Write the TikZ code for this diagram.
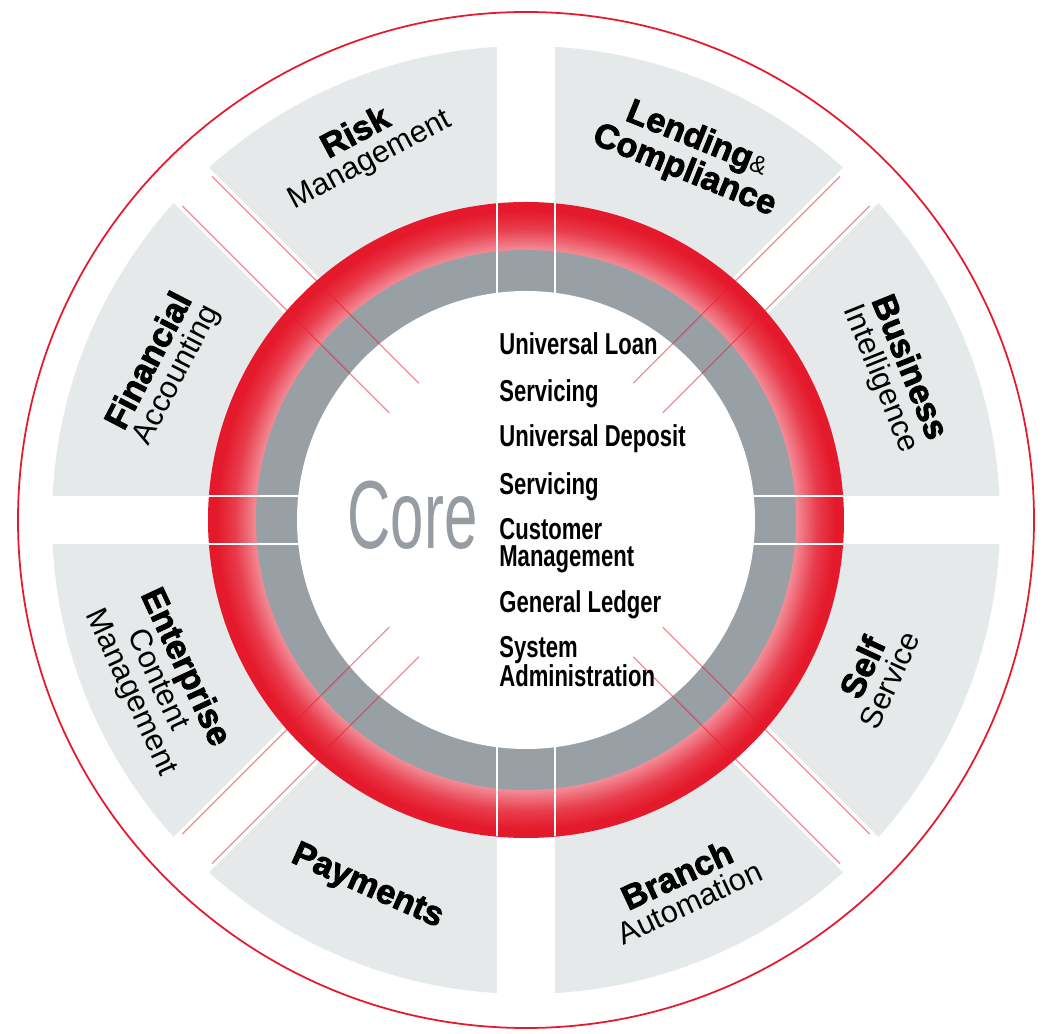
\documentclass[tikz,border=0pt]{standalone}
\usepackage{fontspec}
\setmainfont{Liberation Sans}
\newfontfamily\narrowfont[FakeStretch=0.73]{Liberation Sans}
\newfontfamily\corefont[FakeStretch=0.62]{Liberation Sans}
\newfontfamily\heavyfont[BoldFeatures={FakeBold=2.4}]{Liberation Sans}
\usepackage{xcolor}
\usepackage{tikz}

\definecolor{ringred}{RGB}{228,26,44}
\definecolor{ringpink}{RGB}{243,142,152}
\definecolor{ringgray}{RGB}{152,159,165}
\definecolor{segfill}{RGB}{230,233,234}
\definecolor{coregray}{RGB}{150,156,162}

% red band: pink on the inside, full red on the rim
\pgfdeclareradialshading{redring}{\pgfpoint{0bp}{0bp}}{color(0bp)=(ringpink); color(21.2bp)=(ringpink); color(22.9bp)=(ringred!70!ringpink); color(24.3bp)=(ringred); color(25bp)=(ringred); color(50bp)=(ringred)}

\newcommand{\segtitle}[1]{{\heavyfont\bfseries\fontsize{19.5}{16.5}\selectfont #1}}

\begin{document}
\begin{tikzpicture}[
    gap/.style={fill=white},
    seam/.style={white, line width=1.1pt},
    spoke/.style={ringred, line width=0.6pt, opacity=0.55},
    seglabel/.style={align=center, inner sep=0pt, font=\fontsize{17.5}{16.5}\selectfont},
    module/.style={anchor=base west, align=left, inner sep=0pt, font=\narrowfont\bfseries\fontsize{17.2}{15.4}\selectfont}
]
\useasboundingbox (-10.52,-10.28) rectangle (10.64,10.40);

% outer rim
\draw[ringred, line width=1pt] (0,0) circle (10.16);

% eight segments: one disc cut by four white bands
\fill[segfill] (0,0) circle (9.48);
\fill[gap] (-9.7,-0.48) rectangle (9.7,0.48);
\fill[gap] (-0.58,-9.7) rectangle (0.58,9.7);
\fill[gap, rotate=45] (-9.7,-0.5) rectangle (9.7,0.5);
\fill[gap, rotate=-45] (-9.7,-0.5) rectangle (9.7,0.5);

% core rings
\shade[shading=redring] (0,0) circle (6.36);
\fill[ringgray] (0,0) circle (5.40);
\fill[white] (0,0) circle (4.58);

% seams of the bands through the rings
\draw[seam] (-0.58,4.4) -- (-0.58,6.33) (0.58,4.4) -- (0.58,6.33)
            (-0.58,-4.4) -- (-0.58,-6.33) (0.58,-4.4) -- (0.58,-6.33)
            (4.4,0.48) -- (6.33,0.48) (4.4,-0.48) -- (6.33,-0.48)
            (-4.4,0.48) -- (-6.33,0.48) (-4.4,-0.48) -- (-6.33,-0.48);

% thin red spokes along the diagonal bands
\draw[spoke, rotate=45] (3.45,0.42) -- (9.3,0.42) (3.45,-0.42) -- (9.3,-0.42);
\draw[spoke, rotate=135] (3.45,0.42) -- (9.3,0.42) (3.45,-0.42) -- (9.3,-0.42);
\draw[spoke, rotate=225] (3.45,0.42) -- (9.3,0.42) (3.45,-0.42) -- (9.3,-0.42);
\draw[spoke, rotate=315] (3.45,0.42) -- (9.3,0.42) (3.45,-0.42) -- (9.3,-0.42);

% centre
\node[font=\corefont\fontsize{55}{55}\selectfont, text=coregray, inner sep=0pt] (core) at (-2.27,0.10) {Core};

\node[module] (loan) at (-0.54,3.30) {Universal Loan};
\node[module] (loansvc) at (-0.54,2.36) {Servicing};
\node[module] (deposit) at (-0.54,1.46) {Universal Deposit};
\node[module] (depositsvc) at (-0.54,0.50) {Servicing};
\node[module] (customer) at (-0.54,-0.94) {Customer\\Management};
\node[module] (ledger) at (-0.54,-1.86) {General Ledger};
\node[module] (sysadmin) at (-0.54,-3.34) {System\\Administration};

% segment labels
\node[seglabel, rotate=28] (risk) at (113.6:8.15) {\segtitle{Risk}\\Management};
\node[seglabel, rotate=-22] (lending) at (65.7:8.0) {\segtitle{Lending}{\fontsize{14}{14}\selectfont\&}\\\segtitle{Compliance}};
\node[seglabel, rotate=-68] (business) at (21.7:7.94) {\segtitle{Business}\\Intelligence};
\node[seglabel, rotate=65] (self) at (-23.7:7.63) {\segtitle{Self}\\Service};
\node[seglabel, rotate=25] (branch) at (-66.9:8.0) {\segtitle{Branch}\\Automation};
\node[seglabel, rotate=-24] (payments) at (-113.4:8.0) {\segtitle{Payments}};
\node[seglabel, rotate=-65] (enterprise) at (203.5:8.02) {\segtitle{Enterprise}\\Content\\Management};
\node[seglabel, rotate=62.5] (financial) at (157.3:7.87) {\segtitle{Financial}\\Accounting};

\end{tikzpicture}
\end{document}
